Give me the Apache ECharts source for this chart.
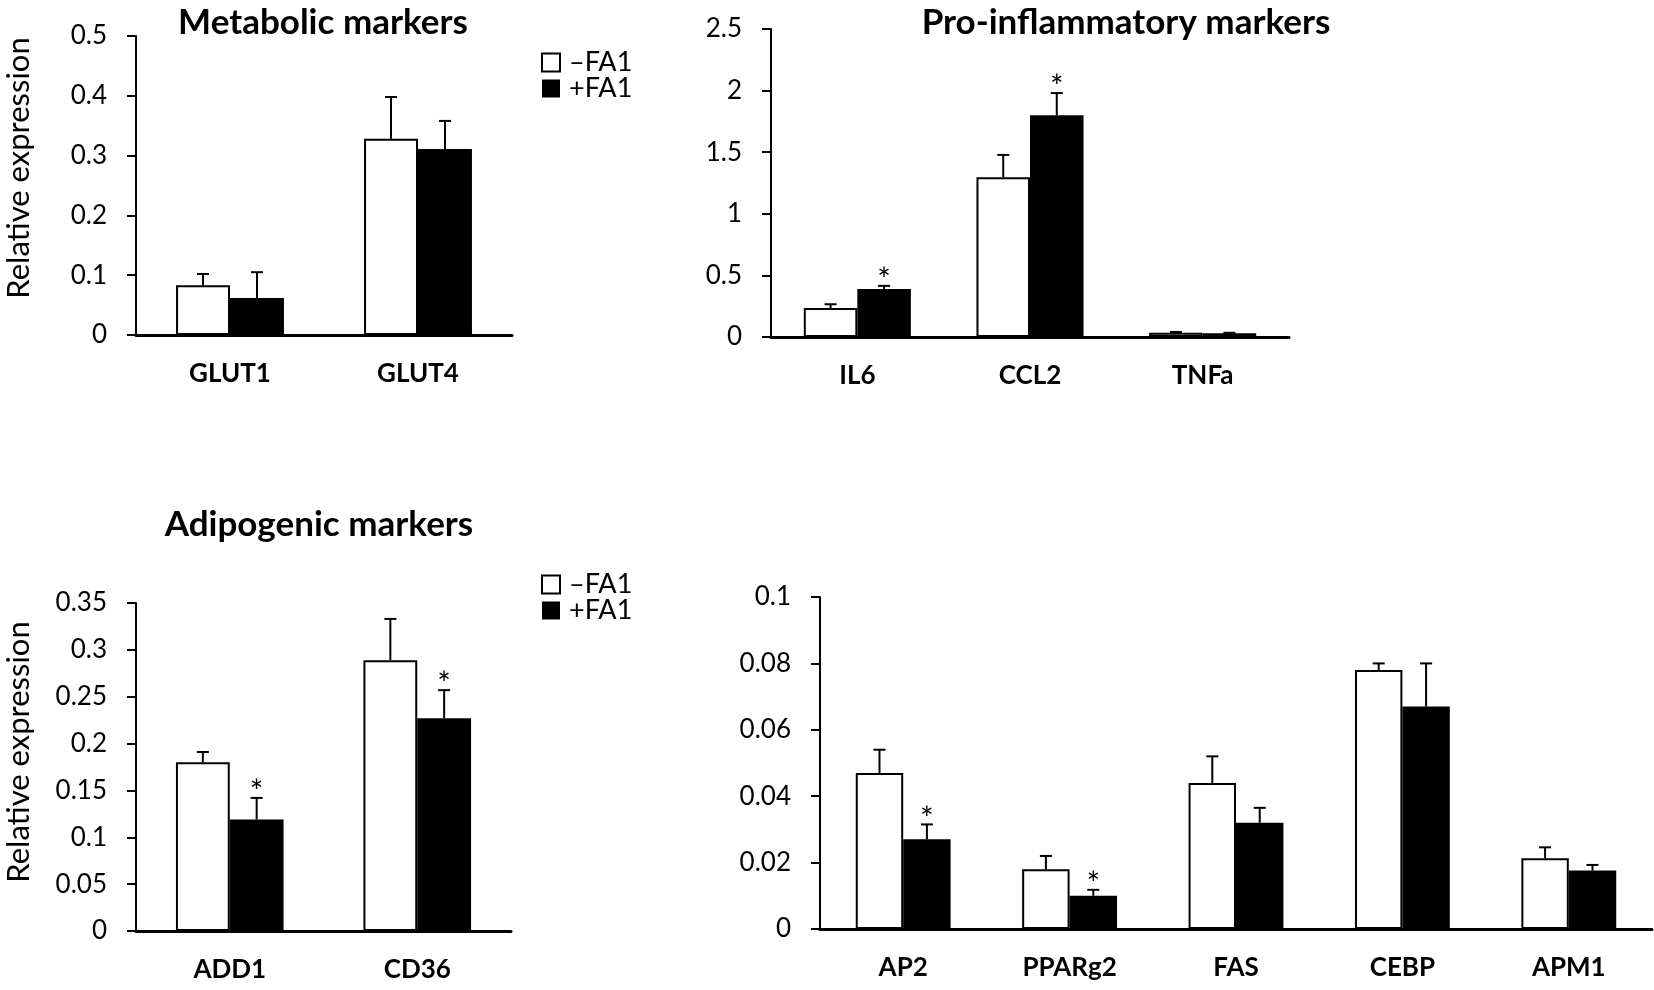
<!DOCTYPE html>
<html>
<head>
<meta charset="utf-8">
<script src="https://cdn.jsdelivr.net/npm/echarts@6/dist/echarts.min.js"></script>
<style>
  html, body { margin: 0; padding: 0; background: #fff; }
  #chart { width: 1654px; height: 990px; }
</style>
</head>
<body>
<div id="chart"></div>
<script>
// metabolic markers
const metaCats = ["GLUT1", "GLUT4"];
const metaMinus = [0.083, 0.328];
const metaMinusErr = [0.019, 0.070];
const metaPlus = [0.062, 0.311];
const metaPlusErr = [0.043, 0.047];
const metaStars = [0, 0];

// pro-inflammatory markers
const inflCats = ["IL6", "CCL2", "TNFa"];
const inflMinus = [0.235, 1.297, 0.035];
const inflMinusErr = [0.031, 0.181, 0.006];
const inflPlus = [0.39, 1.80, 0.03];
const inflPlusErr = [0.025, 0.18, 0.004];
const inflStars = [1, 1, 0];

// adipogenic markers (left)
const adipoCats = ["ADD1", "CD36"];
const adipoMinus = [0.18, 0.289];
const adipoMinusErr = [0.011, 0.044];
const adipoPlus = [0.119, 0.227];
const adipoPlusErr = [0.023, 0.030];
const adipoStars = [1, 1];

// adipogenic markers (right)
const adipo2Cats = ["AP2", "PPARg2", "FAS", "CEBP", "APM1"];
const adipo2Minus = [0.047, 0.018, 0.044, 0.078, 0.0213];
const adipo2MinusErr = [0.007, 0.004, 0.008, 0.002, 0.0033];
const adipo2Plus = [0.027, 0.010, 0.032, 0.067, 0.0176];
const adipo2PlusErr = [0.0045, 0.0018, 0.0045, 0.013, 0.0017];
const adipo2Stars = [1, 1, 0, 0, 0];

// y axis ticks
const yTicks = [
  { max: 0.5, interval: 0.1 },
  { max: 2.5, interval: 0.5 },
  { max: 0.35, interval: 0.05 },
  { max: 0.1, interval: 0.02 }
];

const FONT = "Lato";
const chart = echarts.init(document.getElementById("chart"));

const panels = [
  { cats: metaCats, minus: metaMinus, minusErr: metaMinusErr, plus: metaPlus, plusErr: metaPlusErr, stars: metaStars,
    grid: { left: 136, top: 36, width: 376, height: 299 }, gap: 0.426 },
  { cats: inflCats, minus: inflMinus, minusErr: inflMinusErr, plus: inflPlus, plusErr: inflPlusErr, stars: inflStars,
    grid: { left: 771, top: 29, width: 518, height: 308 }, gap: 0.38 },
  { cats: adipoCats, minus: adipoMinus, minusErr: adipoMinusErr, plus: adipoPlus, plusErr: adipoPlusErr, stars: adipoStars,
    grid: { left: 136, top: 603, width: 375, height: 328 }, gap: 0.426 },
  { cats: adipo2Cats, minus: adipo2Minus, minusErr: adipo2MinusErr, plus: adipo2Plus, plusErr: adipo2PlusErr, stars: adipo2Stars,
    grid: { left: 820, top: 597, width: 832, height: 332 }, gap: 0.43 }
];

// error bar (+ star) drawn over each bar
function makeErrRender(side, gap) {
  return function (params, api) {
    const i = api.value(0);
    const mean = api.value(1);
    const err = api.value(2);
    const star = api.value(3);
    const band = api.size([1, 0])[0];
    const barW = band * (1 - gap) / 2;
    const cx = api.coord([i, 0])[0] + side * barW / 2;
    const y0 = api.coord([i, mean])[1];
    const y1 = api.coord([i, mean + err])[1];
    const style = { stroke: "#000", lineWidth: 2 };
    const children = [
      { type: "line", shape: { x1: cx, y1: y0, x2: cx, y2: y1 }, style: style },
      { type: "line", shape: { x1: cx - 6, y1: y1, x2: cx + 6, y2: y1 }, style: style }
    ];
    if (star) {
      children.push({
        type: "text",
        x: cx, y: y1 - 5,
        style: { text: "*", fill: "#000", font: "32px " + FONT, align: "center", verticalAlign: "middle" }
      });
    }
    return { type: "group", children: children };
  };
}

const grids = [], xAxes = [], yAxes = [], series = [];
panels.forEach(function (p, k) {
  grids.push(p.grid);
  xAxes.push({
    type: "category", gridIndex: k, data: p.cats,
    axisLine: { lineStyle: { color: "#000", width: 3 } },
    axisTick: { show: false },
    axisLabel: { color: "#000", fontFamily: FONT, fontWeight: "bold", fontSize: 26, margin: 26 }
  });
  yAxes.push({
    type: "value", gridIndex: k, min: 0, max: yTicks[k].max, interval: yTicks[k].interval,
    axisLine: { show: true, lineStyle: { color: "#000", width: 2 } },
    axisTick: { show: true, length: 9, lineStyle: { color: "#000", width: 2 } },
    splitLine: { show: false },
    axisLabel: { color: "#000", fontFamily: FONT, fontSize: 26, margin: 29 }
  });
  series.push({
    name: "\u2013FA1", type: "bar", xAxisIndex: k, yAxisIndex: k, data: p.minus,
    barGap: "0%", barCategoryGap: (p.gap * 100) + "%",
    itemStyle: { color: "#fff", borderColor: "#000", borderWidth: 2 }
  });
  series.push({
    name: "+FA1", type: "bar", xAxisIndex: k, yAxisIndex: k, data: p.plus,
    barGap: "0%", barCategoryGap: (p.gap * 100) + "%",
    itemStyle: { color: "#000", borderColor: "#000", borderWidth: 0 }
  });
  series.push({
    name: "errMinus" + k, type: "custom", xAxisIndex: k, yAxisIndex: k, z: 5,
    renderItem: makeErrRender(-1, p.gap),
    data: p.cats.map(function (c, i) { return [i, p.minus[i], p.minusErr[i], 0]; })
  });
  series.push({
    name: "errPlus" + k, type: "custom", xAxisIndex: k, yAxisIndex: k, z: 5,
    renderItem: makeErrRender(1, p.gap),
    data: p.cats.map(function (c, i) { return [i, p.plus[i], p.plusErr[i], p.stars[i]]; })
  });
});

const legendBase = {
  orient: "vertical", data: ["\u2013FA1", "+FA1"], icon: "rect", padding: 0,
  itemWidth: 18, itemHeight: 18, itemGap: -1, selectedMode: false,
  textStyle: { color: "#000", fontFamily: FONT, fontSize: 27, padding: [0, 0, 0, 4] }
};

const titleStyle = { color: "#000", fontFamily: FONT, fontWeight: "bold", fontSize: 35 };

chart.setOption({
  animation: false,
  backgroundColor: "#fff",
  title: [
    { text: "Metabolic markers", left: 318, top: 0, textAlign: "center", textStyle: titleStyle },
    { text: "Pro-inflammatory markers", left: 1121, top: 0, textAlign: "center", textStyle: titleStyle },
    { text: "Adipogenic markers", left: 314, top: 502, textAlign: "center", textStyle: titleStyle }
  ],
  legend: [
    Object.assign({}, legendBase, { left: 541, top: 49 }),
    Object.assign({}, legendBase, { left: 541, top: 571 })
  ],
  graphic: [
    { type: "text", x: 19, y: 168, rotation: Math.PI / 2,
      style: { text: "Relative expression", fill: "#000", font: "31px " + FONT, align: "center", verticalAlign: "middle" } },
    { type: "text", x: 19, y: 752, rotation: Math.PI / 2,
      style: { text: "Relative expression", fill: "#000", font: "31px " + FONT, align: "center", verticalAlign: "middle" } }
  ],
  grid: grids,
  xAxis: xAxes,
  yAxis: yAxes,
  series: series
});
</script>
</body>
</html>
